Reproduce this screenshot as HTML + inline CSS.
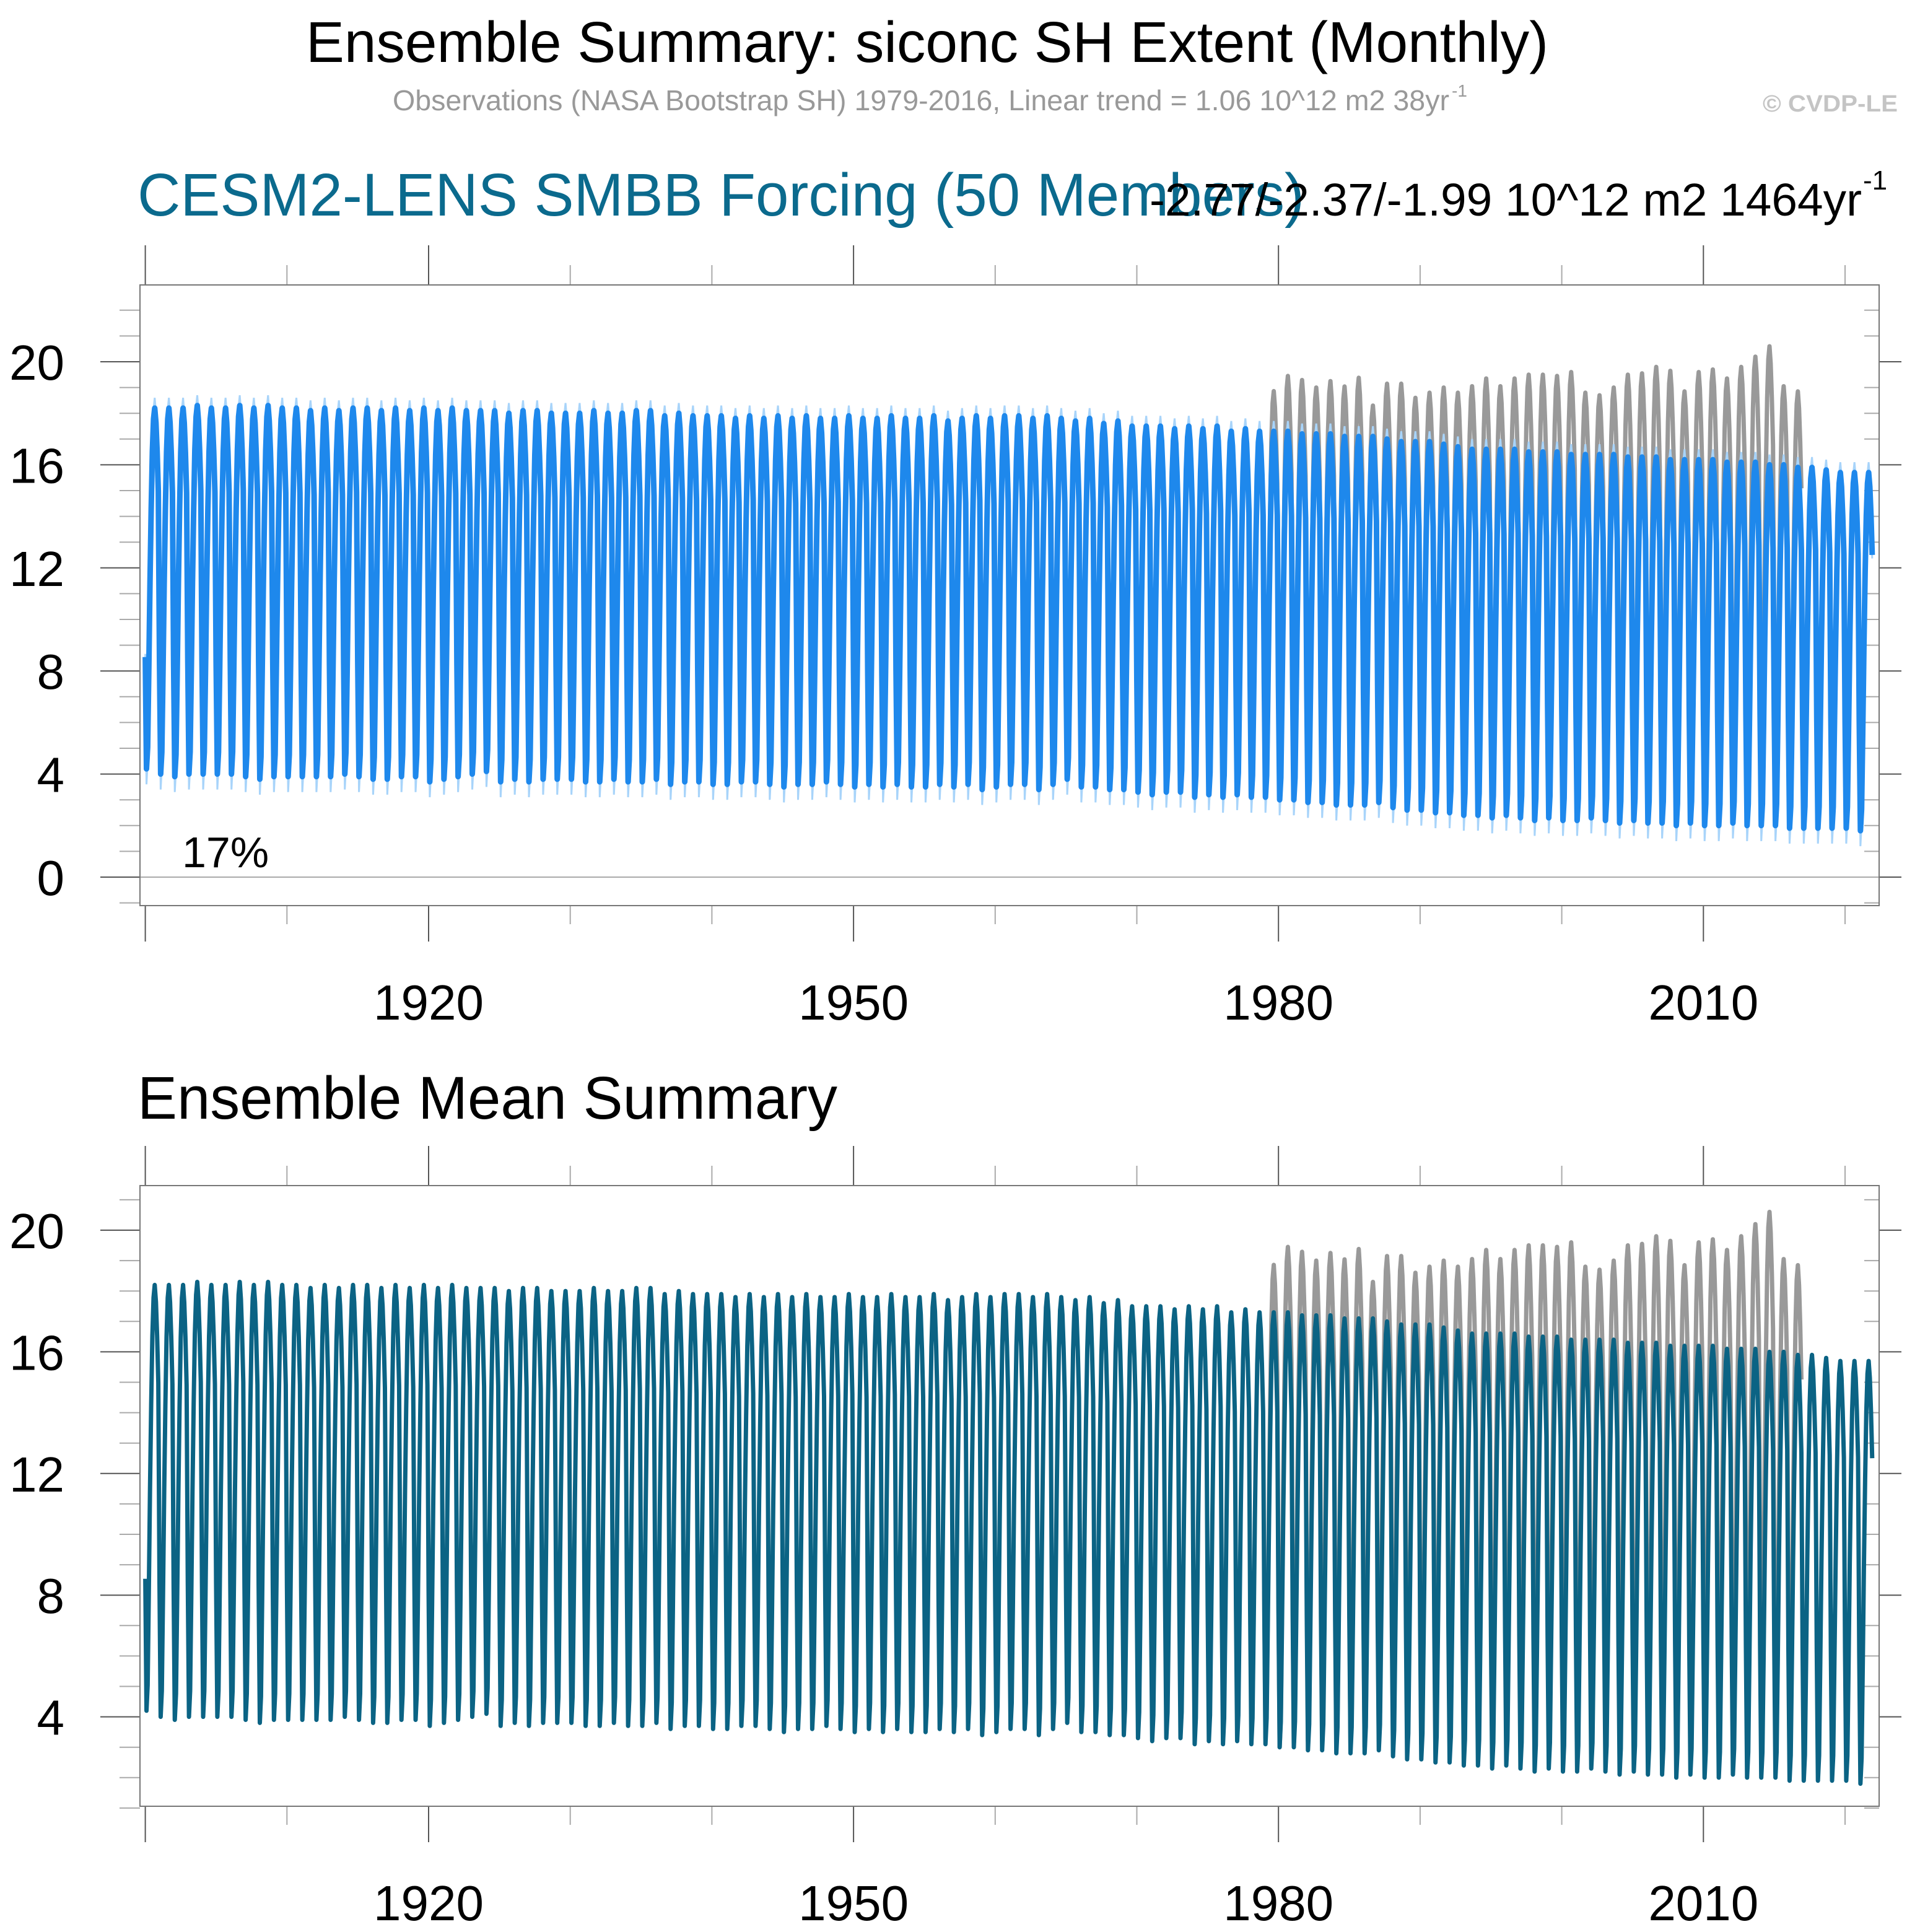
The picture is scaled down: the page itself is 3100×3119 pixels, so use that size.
<!DOCTYPE html>
<html><head><meta charset="utf-8"><style>
html,body{margin:0;padding:0;background:#fff;}
svg{display:block;font-family:"Liberation Sans",sans-serif;}
</style></head><body>
<svg id="chart" width="3100" height="3119" viewBox="0 0 3100 3119" xmlns="http://www.w3.org/2000/svg">
<text x="494" y="100" font-size="93" textLength="2006" lengthAdjust="spacingAndGlyphs">Ensemble Summary: siconc SH Extent (Monthly)</text>
<text x="634" y="178" font-size="46" fill="#999" textLength="1706" lengthAdjust="spacingAndGlyphs">Observations (NASA Bootstrap SH) 1979-2016, Linear trend = 1.06 10^12 m2 38yr</text>
<text x="2344" y="156" font-size="28" fill="#999">-1</text>
<text x="2846" y="180" font-size="38" font-weight="bold" fill="#c4c4c4" textLength="218" lengthAdjust="spacingAndGlyphs">© CVDP-LE</text>
<text x="222" y="348" font-size="97" fill="#0b6a8d" textLength="1884" lengthAdjust="spacingAndGlyphs">CESM2-LENS SMBB Forcing (50 Members)</text>
<text x="1856" y="348" font-size="74" textLength="1150" lengthAdjust="spacingAndGlyphs">-2.77/-2.37/-1.99 10^12 m2 1464yr</text>
<text x="3008" y="306" font-size="44">-1</text>
<text x="222" y="1806" font-size="97" textLength="1130" lengthAdjust="spacingAndGlyphs">Ensemble Mean Summary</text>
<g id="layers"></g>
</svg>
<script>
const years = [];
for (let y = 1900; y <= 2021; y++) years.push(y);
const monthShape = [0.31,0.0,0.06,0.28,0.52,0.72,0.88,0.97,1.0,0.96,0.88,0.77];
const ensMax = [18.2,18.2,18.2,18.3,18.2,18.2,18.3,18.2,18.3,18.2,
18.2,18.1,18.2,18.1,18.2,18.2,18.1,18.2,18.1,18.2,
18.1,18.2,18.1,18.1,18.1,18.0,18.1,18.1,18.0,18.0,
18.0,18.1,18.0,18.0,18.1,18.1,17.9,18.0,17.9,17.9,
17.9,17.8,17.9,17.8,17.9,17.8,17.9,17.8,17.8,17.9,
17.8,17.8,17.9,17.8,17.8,17.9,17.7,17.8,17.9,17.8,
17.9,17.9,17.8,17.9,17.8,17.7,17.8,17.6,17.7,17.5,
17.5,17.5,17.4,17.5,17.4,17.5,17.3,17.4,17.3,17.3,
17.3,17.2,17.2,17.2,17.1,17.1,17.1,17.0,16.9,16.9,
16.9,16.8,16.7,16.6,16.6,16.6,16.6,16.5,16.5,16.5,
16.4,16.4,16.4,16.4,16.3,16.3,16.3,16.2,16.2,16.2,
16.2,16.1,16.1,16.1,16.0,16.0,15.9,15.9,15.8,15.7,
15.7,15.7];
const ensMin = [4.2,4.0,3.9,4.0,4.0,4.0,4.0,3.9,3.8,3.9,
3.9,3.9,3.9,3.9,4.0,3.9,3.8,3.8,3.9,3.9,
3.7,3.8,3.9,4.0,4.1,3.7,3.8,3.7,3.8,3.8,
3.8,3.7,3.7,3.8,3.7,3.7,3.8,3.6,3.7,3.7,
3.6,3.6,3.7,3.7,3.6,3.5,3.6,3.6,3.7,3.6,
3.5,3.6,3.5,3.6,3.5,3.5,3.6,3.5,3.6,3.4,
3.5,3.6,3.6,3.4,3.6,3.8,3.5,3.5,3.4,3.4,
3.3,3.2,3.3,3.3,3.1,3.2,3.1,3.2,3.1,3.1,
3.0,3.0,2.9,2.9,2.8,2.8,2.8,2.9,2.7,2.6,
2.6,2.5,2.5,2.4,2.4,2.3,2.4,2.3,2.2,2.3,
2.2,2.2,2.3,2.2,2.1,2.2,2.1,2.1,2.0,2.1,
2.0,2.0,2.1,2.0,2.0,2.0,1.9,1.9,1.9,1.9,
1.9,1.8];
const spreadUp = [0.4];
const spreadDown = [0.6];
const obsYears = [];
for (let y = 1979; y <= 2016; y++) obsYears.push(y);
const obsMax = [18.86,19.45,19.29,19.0,19.25,19.04,19.38,18.3,19.15,19.15,
18.6,18.8,19.0,18.8,19.05,19.35,19.05,19.35,19.5,19.5,
19.45,19.6,18.8,18.7,19.0,19.5,19.55,19.8,19.65,18.85,
19.6,19.7,19.35,19.8,20.2,20.6,19.05,18.85];
const obsMin = [3.3,3.0,3.1,3.2,3.3,3.1,3.0,3.0,3.2,3.1,
3.3,3.1,3.0,3.1,3.1,3.1,3.1,3.3,3.0,3.2,
3.2,3.1,3.3,3.2,3.4,3.2,3.0,2.9,3.2,3.3,
3.2,3.4,3.3,3.4,3.6,3.9,3.0,2.5];
const yTickLabelsTop = [0,4,8,12,16,20];
const yTickLabelsBottom = [4,8,12,16,20];
const xTickLabels = [1920,1950,1980,2010];

const NS = "http://www.w3.org/2000/svg";
const root = document.getElementById('layers');
function mk(tag, attrs, parent) {
  const e = document.createElementNS(NS, tag);
  for (const k in attrs) e.setAttribute(k, attrs[k]);
  (parent || root).appendChild(e);
  return e;
}
const xScale = t => 692 + (t - 1920) * 22.87;

function monthly(yrs, mx, mn) {
  const pts = [];
  yrs.forEach((y, i) => {
    for (let m = 0; m < 12; m++) {
      pts.push([y + m / 12, mn[i] + monthShape[m] * (mx[i] - mn[i])]);
    }
  });
  return pts;
}

function panel(name, top, bottom, y0, ppu, vmin, vmax, ylabels, series) {
  const yS = v => y0 - v * ppu;
  const L = 226, R = 3034;
  const g = mk('g', {});
  
  
  for (let v = Math.ceil(vmin); v <= Math.floor(vmax); v++) {
    const major = v % 4 === 0;
    const y = yS(v);
    const t1 = mk('line', {x1: major ? 162 : 193, x2: L, y1: y, y2: y, stroke: major ? '#555' : '#aaa', 'stroke-width': 2}, g);
    
    
    const t2 = mk('line', {x1: R, x2: major ? 3070 : 3010, y1: y, y2: y, stroke: major ? '#555' : '#aaa', 'stroke-width': 2}, g);
    
    
  }
  ylabels.forEach(v => {
    const t = mk('text', {x: 104, y: yS(v) + 29, 'font-size': 80, 'text-anchor': 'end'}, g);
    t.textContent = v;
    
    
  });
  for (let yr = 1900; yr <= 2020; yr += 10) {
    const x = xScale(yr);
    const major = (yr - 1920) % 30 === 0 || yr === 1900;
    const a = mk('line', {x1: x, x2: x, y1: top - (major ? 64 : 32), y2: top, stroke: major ? '#555' : '#aaa', 'stroke-width': 2}, g);
    
    
    const b = mk('line', {x1: x, x2: x, y1: bottom, y2: bottom + (major ? 58 : 30), stroke: major ? '#555' : '#aaa', 'stroke-width': 2}, g);
    
    
  }
  xTickLabels.forEach(yr => {
    const t = mk('text', {x: xScale(yr), y: bottom + 184, 'font-size': 80, 'text-anchor': 'middle'}, g);
    t.textContent = yr;
    
    
  });
  const cp = mk('clipPath', {id: 'clip-' + name}, g);
  mk('rect', {x: L, y: top, width: R - L, height: bottom - top}, cp);
  const sg = mk('g', {'clip-path': 'url(#clip-' + name + ')'}, g);
  series(sg, yS);
  const box = mk('rect', {x: L, y: top, width: R - L, height: bottom - top, fill: 'none', stroke: '#777', 'stroke-width': 2}, g);
  
  
}

function pathOf(pts, yS) {
  return pts.map((p, i) => (i ? 'L' : 'M') + xScale(p[0]).toFixed(1) + ',' + yS(p[1]).toFixed(1)).join('');
}

const ensPts = monthly(years, ensMax, ensMin);
const obsPts = monthly(obsYears, obsMax, obsMin);
const hiMax = ensMax.map(v => v + spreadUp[0]);
const loMin = ensMin.map(v => v - spreadDown[0]);
const hiPts = monthly(years, hiMax, ensMin);
const loPts = monthly(years, ensMax, loMin);

panel('top-panel', 460, 1462, 1416, 41.6, -1, 22, yTickLabelsTop, (g, yS) => {
  const z = mk('line', {x1: 226, x2: 3034, y1: yS(0), y2: yS(0), stroke: '#aaa', 'stroke-width': 2}, g);
  
  
  const o = mk('path', {d: pathOf(obsPts, yS), fill: 'none', stroke: '#999', 'stroke-width': 7, 'stroke-linejoin': 'round'}, g);
  
  
  const h = mk('path', {d: pathOf(hiPts, yS), fill: 'none', stroke: '#a8d4fa', 'stroke-width': 3}, g);
  
  
  const l = mk('path', {d: pathOf(loPts, yS), fill: 'none', stroke: '#a8d4fa', 'stroke-width': 3}, g);
  
  
  const e = mk('path', {d: pathOf(ensPts, yS), fill: 'none', stroke: '#1e88ec', 'stroke-width': 9, 'stroke-linejoin': 'round'}, g);
  
  
});
const pct = mk('text', {x: 294, y: 1400, 'font-size': 70});
pct.textContent = '17%';



panel('bottom-panel', 1914, 2916, 2968, 49.1, 1, 21.5, yTickLabelsBottom, (g, yS) => {
  const o = mk('path', {d: pathOf(obsPts, yS), fill: 'none', stroke: '#999', 'stroke-width': 7, 'stroke-linejoin': 'round'}, g);
  
  
  const e = mk('path', {d: pathOf(ensPts, yS), fill: 'none', stroke: '#0b6384', 'stroke-width': 7, 'stroke-linejoin': 'round'}, g);
  
  
});
</script>
</body></html>
